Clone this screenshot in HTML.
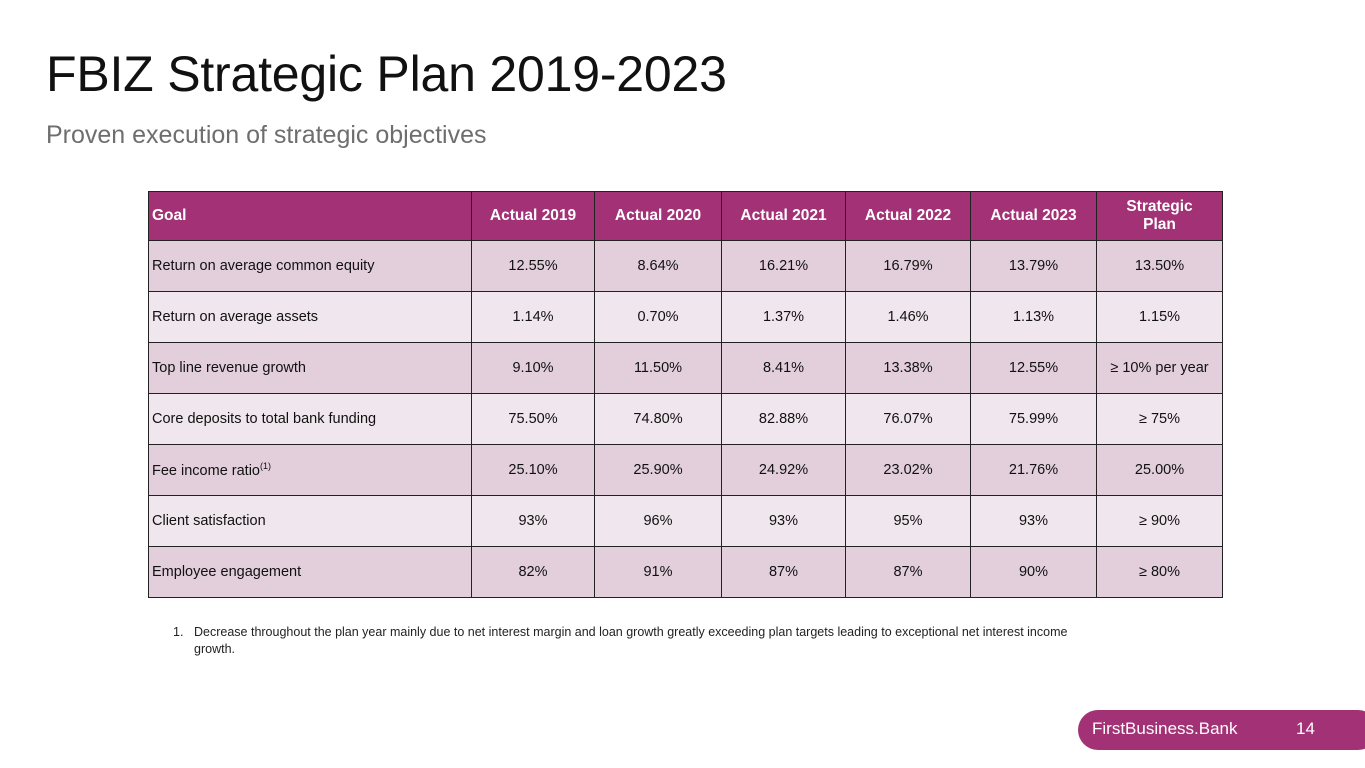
<!DOCTYPE html>
<html><head><meta charset="utf-8"><style>
body{margin:0;width:1365px;height:768px;background:#fff;font-family:"Liberation Sans",sans-serif;position:relative;overflow:hidden}
#title{position:absolute;left:46px;top:44px;font-size:50px;line-height:60px;color:#111;margin:0;font-weight:normal;letter-spacing:-0.2px}
#sub{position:absolute;left:46px;top:121px;font-size:25px;color:#6e6e6e}
table{position:absolute;left:148px;top:191px;border-collapse:collapse;font-size:14.5px;color:#111}
td,th{border:1.5px solid #222;padding:0 3px;height:50px;text-align:center}
th{background:#a23275;color:#fff;font-weight:bold;font-size:15.5px;height:48px}
th:first-child,td:first-child{text-align:left}
tr.o td{background:#e2cfdb}tr.e td{background:#f0e6ed}
#note{position:absolute;left:178px;top:624px;font-size:12.5px;color:#222;width:925px;line-height:17px}
#pill{position:absolute;left:1078px;top:710px;width:300px;height:40px;background:#a23275;border-radius:20px;color:#fff;font-size:17px}
</style></head><body>
<h1 id="title">FBIZ Strategic Plan 2019-2023</h1>
<div id="sub">Proven execution of strategic objectives</div>
<table>
<colgroup><col style="width:323px"><col style="width:123px"><col style="width:127px"><col style="width:124px"><col style="width:125px"><col style="width:126px"><col style="width:126px"></colgroup>
<tr><th>Goal</th><th>Actual 2019</th><th>Actual 2020</th><th>Actual 2021</th><th>Actual 2022</th><th>Actual 2023</th><th style="line-height:18px">Strategic<br>Plan</th></tr>
<tr class="o"><td>Return on average common equity</td><td>12.55%</td><td>8.64%</td><td>16.21%</td><td>16.79%</td><td>13.79%</td><td>13.50%</td></tr>
<tr class="e"><td>Return on average assets</td><td>1.14%</td><td>0.70%</td><td>1.37%</td><td>1.46%</td><td>1.13%</td><td>1.15%</td></tr>
<tr class="o"><td>Top line revenue growth</td><td>9.10%</td><td>11.50%</td><td>8.41%</td><td>13.38%</td><td>12.55%</td><td>≥ 10% per year</td></tr>
<tr class="e"><td>Core deposits to total bank funding</td><td>75.50%</td><td>74.80%</td><td>82.88%</td><td>76.07%</td><td>75.99%</td><td>≥ 75%</td></tr>
<tr class="o"><td>Fee income ratio<sup style="font-size:9px">(1)</sup></td><td>25.10%</td><td>25.90%</td><td>24.92%</td><td>23.02%</td><td>21.76%</td><td>25.00%</td></tr>
<tr class="e"><td>Client satisfaction</td><td>93%</td><td>96%</td><td>93%</td><td>95%</td><td>93%</td><td>≥ 90%</td></tr>
<tr class="o"><td>Employee engagement</td><td>82%</td><td>91%</td><td>87%</td><td>87%</td><td>90%</td><td>≥ 80%</td></tr>
</table>
<div id="note"><span style="position:absolute;left:-5px">1.</span><div style="padding-left:16px">Decrease throughout the plan year mainly due to net interest margin and loan growth greatly exceeding plan targets leading to exceptional net interest income growth.</div></div>
<div id="pill"><span style="position:absolute;left:14px;top:9px">FirstBusiness.Bank</span><span style="position:absolute;left:218px;top:9px">14</span></div>
</body></html>
